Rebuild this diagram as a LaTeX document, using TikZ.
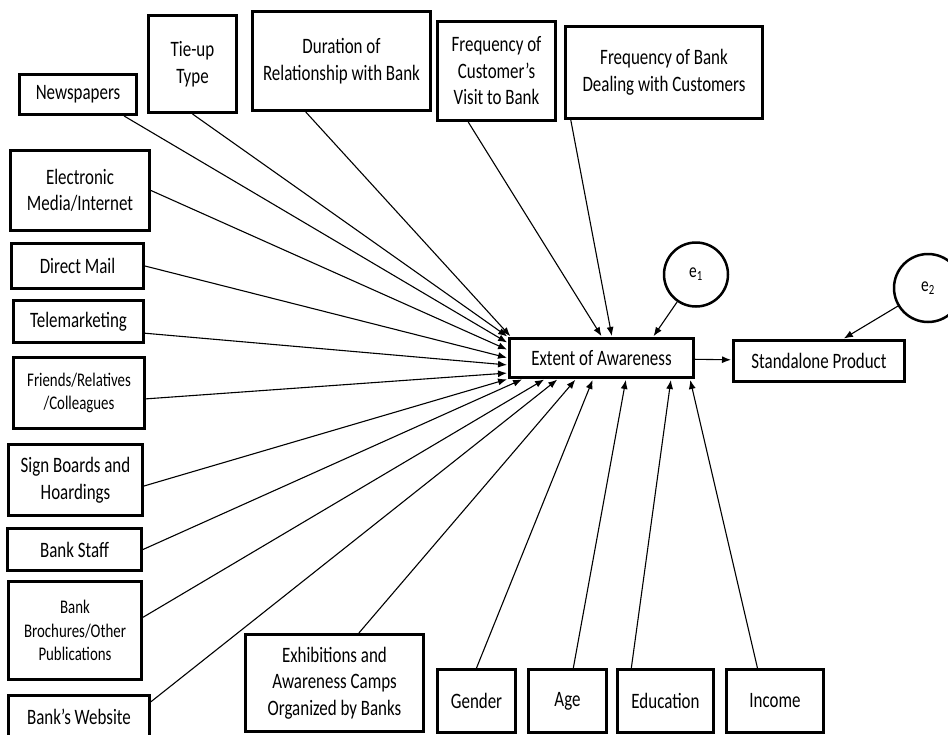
\documentclass[tikz,border=0pt]{standalone}
\usepackage{fontspec}
\setmainfont{Carlito}[FakeStretch=0.77]
\usetikzlibrary{arrows.meta}
\begin{document}
\begin{tikzpicture}
	[x=1pt,y=-1pt,
	box/.style={draw,line width=3pt,align=center,inner sep=1pt,font=\fontsize{22}{26.5}\selectfont},
	smallbox/.style={box,font=\fontsize{19.3}{23.3}\selectfont},
	err/.style={circle,draw,line width=2.5pt,inner sep=0pt,font=\fontsize{20}{24}\selectfont},
	link/.style={->,line width=1.1pt,shorten >=1pt},>={Latex[length=9pt,width=7pt]}]
	\useasboundingbox (0,0) rectangle (948,734);
	\clip (0,0) rectangle (948,734);
	\node[box,name=news,minimum width=117pt,minimum height=40pt] at (78,94.5) {Newspapers};
	\node[box,name=tieup,minimum width=88pt,minimum height=97pt] at (192.5,64) {Tie-up\\Type};
	\node[box,name=dur,minimum width=178pt,minimum height=99pt] at (341.5,61) {Duration of\\Relationship with Bank};
	\node[box,name=freqcust,minimum width=118pt,minimum height=99pt] at (496.5,71) {Frequency of\\Customer’s\\Visit to Bank};
	\node[box,name=freqbank,minimum width=197pt,minimum height=92pt] at (664,72.5) {Frequency of Bank\\Dealing with Customers};
	\node[box,name=elec,minimum width=139pt,minimum height=80pt] at (80,190.5) {Electronic\\Media/Internet};
	\node[box,name=mail,minimum width=132pt,minimum height=45pt] at (77.5,266) {Direct Mail};
	\node[box,name=tele,minimum width=130pt,minimum height=42pt] at (78.5,321.5) {Telemarketing};
	\node[smallbox,name=friends,minimum width=131pt,minimum height=71pt] at (79,393) {Friends/Relatives\\/Colleagues};
	\node[box,name=sign,minimum width=134pt,minimum height=71pt] at (75.5,480) {Sign Boards and\\Hoardings};
	\node[box,name=staff,minimum width=134pt,minimum height=42pt] at (74.5,549.5) {Bank Staff};
	\node[smallbox,name=broch,minimum width=133pt,minimum height=98pt] at (75,630.5) {Bank\\Brochures/Other\\Publications};
	\node[box,name=web,minimum width=141pt,minimum height=43pt] at (79,717) {Bank’s Website};
	\node[box,name=exhib,minimum width=178pt,minimum height=97pt] at (334.5,683) {Exhibitions and\\Awareness Camps\\Organized by Banks};
	\node[box,name=gender,minimum width=78pt,minimum height=63pt] at (476.5,701) {Gender};
	\node[box,name=age,minimum width=78pt,minimum height=63pt] at (567.5,701) {Age};
	\node[box,name=edu,minimum width=96pt,minimum height=63pt] at (665.5,701) {Education};
	\node[box,name=income,minimum width=97pt,minimum height=63pt] at (775,701) {Income};
	\node[box,name=extent,minimum width=184pt,minimum height=39pt] at (601.5,358) {Extent of Awareness};
	\node[box,name=stand,minimum width=171pt,minimum height=41pt] at (819,361) {Standalone Product};
	\node[err,name=e1,minimum size=64pt] at (696,274.5) {e\textsubscript{1}};
	\node[err,name=e2,minimum size=68pt] at (928,288) {e\textsubscript{2}};
	\draw[link](tieup.south)--(extent.north west);
	\draw[link](dur.-125)--([xshift=3pt]extent.north west);
	\draw[link](news.-25)--([yshift=-6pt]extent.north west);
	\draw[link](elec.east)--([yshift=-13pt]extent.north west);
	\draw[link](mail.east)--([yshift=-21pt]extent.north west);
	\draw[link](tele.-10)--([yshift=-28pt]extent.north west);
	\draw[link](friends.-5)--([yshift=-36pt]extent.north west);
	\draw[link](sign.-5)--(extent.south west);
	\draw[link](staff.east)--([xshift=15pt]extent.south west);
	\draw[link](broch.11)--([xshift=37pt]extent.south west);
	\draw[link](web.12)--([xshift=50pt]extent.south west);
	\draw[link](exhib.64)--([xshift=68pt]extent.south west);
	\draw[link](gender.north)--([xshift=85pt]extent.south west);
	\draw[link](age.80)--([xshift=118pt]extent.south west);
	\draw[link](edu.136)--([xshift=163pt]extent.south west);
	\draw[link](income.118)--([xshift=182pt]extent.south west);
	\draw[link](freqcust.-119)--([xshift=94pt]extent.north west);
	\draw[link](freqbank.-153)--([xshift=104pt]extent.north west);
	\draw[link](e1)--([xshift=145pt]extent.north west);
	\draw[link](e2)--([xshift=111pt]stand.north west);
	\draw[link](extent)--(stand);
\end{tikzpicture}
\end{document}
